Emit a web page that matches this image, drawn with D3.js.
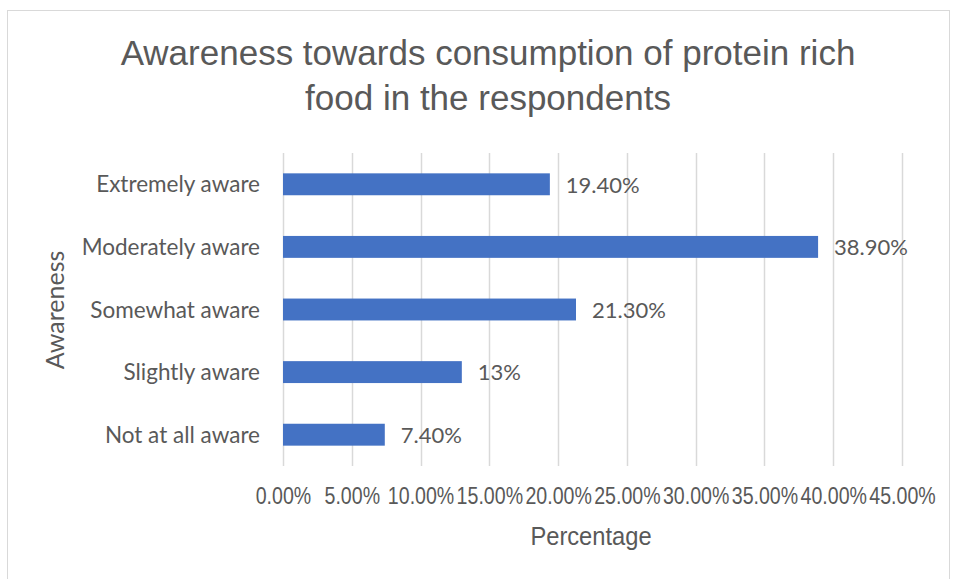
<!DOCTYPE html>
<html>
<head>
<meta charset="utf-8">
<script src="https://cdn.jsdelivr.net/npm/d3@7"></script>
<style>
  html, body { margin: 0; padding: 0; background: #fff; }
  svg { display: block; }
</style>
</head>
<body>
<svg id="chart" width="954" height="579"></svg>
<script>
// Awareness levels (top to bottom) and their share of respondents
const categories = ["Extremely aware", "Moderately aware", "Somewhat aware", "Slightly aware", "Not at all aware"];
const values = [0.194, 0.389, 0.213, 0.13, 0.074];
const valueLabels = ["19.40%", "38.90%", "21.30%", "13%", "7.40%"];
const xTicks = [0, 0.05, 0.10, 0.15, 0.20, 0.25, 0.30, 0.35, 0.40, 0.45];
const titleLines = ["Awareness towards consumption of protein rich", "food in the respondents"];

const sansFont = "'Liberation Sans', Arial, sans-serif";
const bodyFont = "Lato, 'Open Sans', sans-serif";
const textColor = "#595959";

const svg = d3.select("#chart");

// chart frame
svg.append("rect")
  .attr("x", 7.5).attr("y", 10.5)
  .attr("width", 942).attr("height", 580)
  .attr("fill", "#fff").attr("stroke", "#d9d9d9").attr("stroke-width", 1);

const plot = { left: 283, right: 902, top: 153, bottom: 466 };

const x = d3.scaleLinear().domain([0, 0.45]).range([plot.left, plot.right]);
const y = d3.scaleBand().domain(categories)
  .range([plot.top, plot.bottom])
  .paddingInner(0.65).paddingOuter(0.325);

// title, two lines
svg.append("text")
  .attr("x", 488).attr("y", 65)
  .attr("text-anchor", "middle")
  .attr("font-family", sansFont).attr("font-size", 35)
  .attr("fill", textColor)
  .selectAll("tspan").data(titleLines).join("tspan")
  .attr("x", 488).attr("dy", (d, i) => i === 0 ? 0 : 45)
  .text(d => d);

// vertical gridlines
svg.append("g").selectAll("line").data(xTicks).join("line")
  .attr("x1", d => Math.round(x(d)) + 0.5).attr("x2", d => Math.round(x(d)) + 0.5)
  .attr("y1", plot.top).attr("y2", plot.bottom)
  .attr("stroke", "#d9d9d9").attr("stroke-width", 1.5);

// x axis tick labels (condensed)
const xAxis = d3.axisBottom(x).tickValues(xTicks)
  .tickFormat(d3.format(".2%")).tickSize(0).tickPadding(21);
const gx = svg.append("g").attr("transform", `translate(0,${plot.bottom})`).call(xAxis);
gx.select(".domain").remove();
gx.selectAll("text")
  .attr("font-family", sansFont).attr("font-size", 24.5)
  .attr("fill", textColor)
  .attr("transform", "scale(0.8,1)");

// category labels
const yAxis = d3.axisLeft(y).tickSize(0).tickPadding(23);
const gy = svg.append("g").attr("transform", `translate(${plot.left},0)`).call(yAxis);
gy.select(".domain").remove();
gy.selectAll("text")
  .attr("font-family", bodyFont).attr("font-size", 22.5)
  .attr("fill", textColor).attr("dy", "0.36em");

// bars
svg.append("g").selectAll("rect").data(values).join("rect")
  .attr("x", x(0))
  .attr("y", (d, i) => y(categories[i]))
  .attr("width", d => x(d) - x(0))
  .attr("height", y.bandwidth())
  .attr("fill", "#4472c4");

// value labels
svg.append("g").selectAll("text").data(values).join("text")
  .attr("x", d => x(d) + 16)
  .attr("y", (d, i) => y(categories[i]) + y.bandwidth() / 2)
  .attr("dy", "0.38em")
  .attr("font-family", bodyFont).attr("font-size", 22)
  .attr("fill", textColor)
  .text((d, i) => valueLabels[i]);

// axis titles
svg.append("text")
  .attr("transform", "translate(591,545) scale(0.93,1)")
  .attr("text-anchor", "middle")
  .attr("font-family", sansFont).attr("font-size", 25.5)
  .attr("fill", textColor)
  .text("Percentage");

svg.append("text")
  .attr("transform", "translate(64,310) rotate(-90)")
  .attr("text-anchor", "middle")
  .attr("font-family", bodyFont).attr("font-size", 25)
  .attr("fill", textColor)
  .text("Awareness");
</script>
</body>
</html>
